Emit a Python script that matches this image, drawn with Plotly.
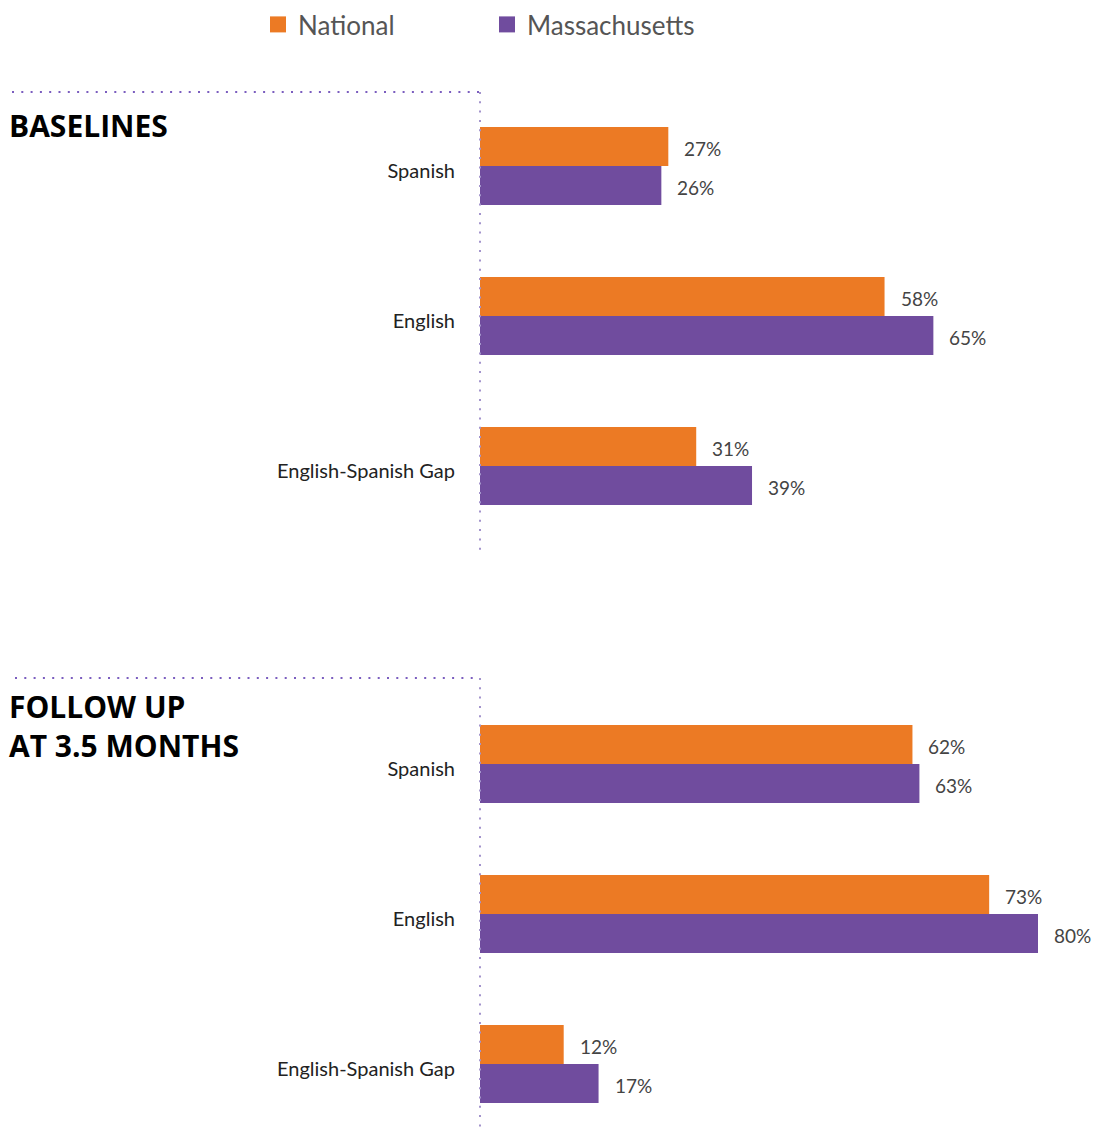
import plotly.graph_objects as go

# Survey results: share of respondents, National vs Massachusetts
categories = ["Spanish", "English", "English-Spanish Gap"]
baseline_national = [27, 58, 31]
baseline_mass = [26, 65, 39]
followup_national = [62, 73, 12]
followup_mass = [63, 80, 17]
series_names = ["National", "Massachusetts"]
section_titles = ["BASELINES", "FOLLOW UP<br>AT 3.5 MONTHS"]

ORANGE = "#EC7A24"
PURPLE = "#704C9E"
W, H = 1102, 1131
FONT = "Lato"

positions = list(range(len(categories)))

fig = go.Figure()

panels = [
    ("x", "y", baseline_national, baseline_mass),
    ("x2", "y2", followup_national, followup_mass),
]
for xa, ya, nat, mass in panels:
    for name, vals, color in zip(series_names, [nat, mass], [ORANGE, PURPLE]):
        fig.add_trace(go.Bar(
            y=positions, x=vals, orientation="h", name=name,
            marker=dict(color=color, line=dict(width=0)),
            xaxis=xa, yaxis=ya, showlegend=False, hoverinfo="x+y",
        ))

# legend entries
for name, color in zip(series_names, [ORANGE, PURPLE]):
    fig.add_trace(go.Scatter(
        x=[None], y=[None], mode="markers", name=name,
        marker=dict(symbol="square", size=18, color=color),
        showlegend=True,
    ))

# value labels at the end of each bar
half = 0.13
annotations = []
for xa, ya, nat, mass in panels:
    for offset, vals in ((-half, nat), (half, mass)):
        for i, v in enumerate(vals):
            annotations.append(dict(
                x=v, y=i + offset, xref=xa, yref=ya, text=f"{v}%",
                showarrow=False, xanchor="left", yanchor="middle",
                xshift=14, yshift=-2,
                font=dict(family=FONT, size=19, color="#444444"),
            ))

# section titles
title_font = dict(family="Open Sans", size=30, color="#000000")
annotations.append(dict(x=7 / W, y=1 - 103 / H, xref="paper", yref="paper",
                        text=f"<b>{section_titles[0]}</b>", showarrow=False,
                        xanchor="left", yanchor="top", align="left",
                        font=title_font))
annotations.append(dict(x=7 / W, y=1 - 684 / H, xref="paper", yref="paper",
                        text=f"<b>{section_titles[1]}</b>", showarrow=False,
                        xanchor="left", yanchor="top", align="left",
                        font=title_font))

x0 = 480 / W
px_per_unit = 6.975
xrange = [0, (W - 480) / px_per_unit]

def yrange(top_px, first_center_px, bottom_px, last_center_px, step=150.0):
    return [len(categories) - 1 + (bottom_px - last_center_px) / step,
            -(first_center_px - top_px) / step]

# dotted rules
dot = dict(color="#7B5DBF", width=2, dash="2px,7.3px")
vdot = dict(color="#A394CC", width=2, dash="2px,7.3px")
shapes = [
    dict(type="line", xref="paper", yref="paper", x0=12 / W, x1=x0,
         y0=1 - 92 / H, y1=1 - 92 / H, line=dot),
    dict(type="line", xref="paper", yref="paper", x0=x0, x1=x0,
         y0=1 - 92 / H, y1=1 - 552 / H, line=vdot),
    dict(type="line", xref="paper", yref="paper", x0=15 / W, x1=x0,
         y0=1 - 678 / H, y1=1 - 678 / H, line=dot),
    dict(type="line", xref="paper", yref="paper", x0=x0, x1=x0,
         y0=1 - 678 / H, y1=0, line=vdot),
]

axis_common = dict(showgrid=False, zeroline=False, showline=False,
                   showticklabels=False, fixedrange=True)
yaxis_common = dict(showgrid=False, zeroline=False, showline=False,
                    tickmode="array", tickvals=positions, ticktext=categories,
                    ticks="", ticklabelstandoff=24, ticklabelshift=-5,
                    tickfont=dict(family=FONT, size=20, color="#222222"))

fig.update_layout(
    width=W, height=H,
    margin=dict(l=0, r=0, t=0, b=0),
    paper_bgcolor="white", plot_bgcolor="rgba(0,0,0,0)",
    barmode="group", bargap=0.48, bargroupgap=0,
    font=dict(family=FONT),
    xaxis=dict(axis_common, domain=[x0, 1], range=xrange, anchor="y"),
    yaxis=dict(yaxis_common, domain=[1 - 552 / H, 1 - 92 / H],
               range=yrange(92, 166, 552, 466), anchor="x"),
    xaxis2=dict(axis_common, domain=[x0, 1], range=xrange, anchor="y2"),
    yaxis2=dict(yaxis_common, domain=[0, 1 - 678 / H],
                range=yrange(678, 764, 1131, 1064), anchor="x2"),
    legend=dict(orientation="h", x=258 / W, y=1 - 1 / H, xanchor="left",
                yanchor="top", entrywidth=184, entrywidthmode="pixels",
                font=dict(family=FONT, size=26, color="#555555"),
                bgcolor="rgba(0,0,0,0)"),
    annotations=annotations,
    shapes=shapes,
)

fig.write_html("out.html")
